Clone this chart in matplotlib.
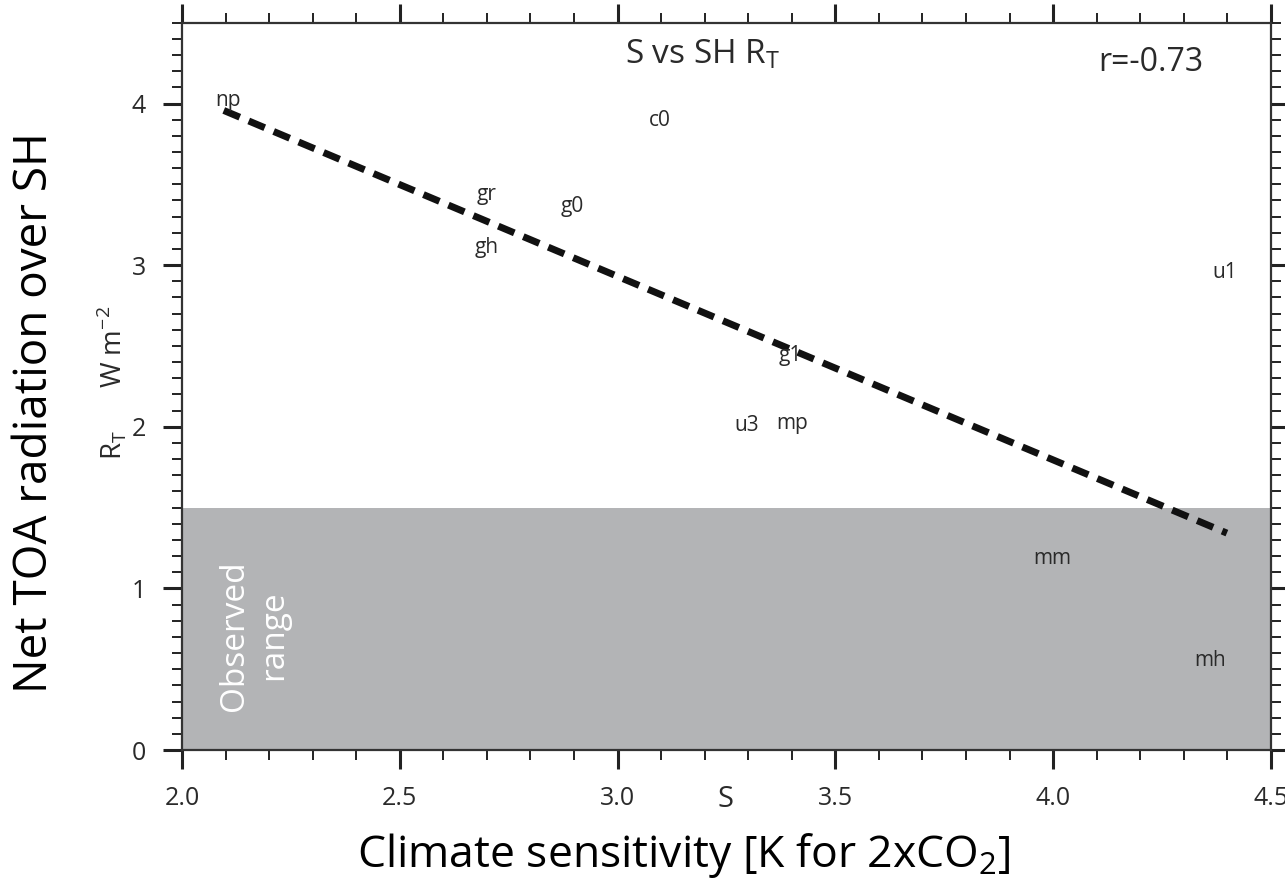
import matplotlib.pyplot as plt
from matplotlib.ticker import MultipleLocator

plt.rcParams['font.family'] = ['Open Sans', 'DejaVu Sans']

# model labels and their (S, R_T) positions
models = ['np', 'c0', 'gr', 'g0', 'gh', 'u1', 'g1', 'u3', 'mp', 'mm', 'mh']
sens = [2.105, 3.096, 2.70, 2.897, 2.70, 4.395, 3.397, 3.296, 3.401, 3.998, 4.36]
rt = [4.02, 3.895, 3.44, 3.36, 3.11, 2.955, 2.44, 2.01, 2.02, 1.187, 0.556]

# regression line end points
fit_x = [2.096, 4.399]
fit_y = [3.957, 1.342]

obs_low, obs_high = 0.0, 1.5

fig = plt.figure(figsize=(12.85, 8.9), dpi=100)
ax = fig.add_axes([0.1416, 0.1573, 0.8474, 0.8172])

ax.axhspan(obs_low, obs_high, color='#b3b4b6', lw=0, zorder=0)
ax.plot(fit_x, fit_y, color='#111111', lw=5, ls=(0, (2.5, 1.4)),
        solid_capstyle='butt', dash_capstyle='butt', zorder=2)
for m, x, y in zip(models, sens, rt):
    ax.text(x, y, m, ha='center', va='center', fontsize=15,
            color='#2a2a2a', zorder=3)

ax.text(2.165, 0.71, 'Observed\nrange', rotation=90, color='white',
        fontsize=24, ha='center', va='center', linespacing=1.25)

ax.text(0.478, 0.957, 'S vs SH R$_\\mathregular{T}$', transform=ax.transAxes,
        ha='center', va='center', fontsize=24, color='#2a2a2a')
ax.text(0.89, 0.945, 'r=-0.73', transform=ax.transAxes,
        ha='center', va='center', fontsize=23, color='#2a2a2a')

ax.set_xlim(2.0, 4.5)
ax.set_ylim(0, 4.5)
ax.xaxis.set_major_locator(MultipleLocator(0.5))
ax.xaxis.set_minor_locator(MultipleLocator(0.1))
ax.yaxis.set_major_locator(MultipleLocator(1))
ax.yaxis.set_minor_locator(MultipleLocator(0.1))
ax.xaxis.set_major_formatter(lambda v, p: '%.1f' % v)
ax.tick_params(which='both', direction='out', top=True, right=True,
               labeltop=False, labelright=False, color='#222222',
               labelcolor='#2a2a2a')
ax.tick_params(which='major', length=14, width=2.2, labelsize=18, pad=12)
ax.tick_params(which='minor', length=7, width=1.4)
for s in ax.spines.values():
    s.set_linewidth(1.6)
    s.set_color('#333333')

ax.text(0.499, -0.068, 'S', transform=ax.transAxes, ha='center',
        va='center', fontsize=21, color='#2a2a2a')
ax.text(-0.065, 0.505, 'R$_\\mathregular{T}$      W m$^\\mathregular{-2}$',
        transform=ax.transAxes, rotation=90, ha='center', va='center',
        fontsize=20, color='#2a2a2a')

fig.text(0.532, 0.039, 'Climate sensitivity [K for 2xCO$_\\mathregular{2}$]',
         ha='center', va='center', fontsize=32)
fig.text(0.027, 0.537, 'Net TOA radiation over SH', rotation=90,
         ha='center', va='center', fontsize=33)

fig.savefig('out.png', dpi=100)
